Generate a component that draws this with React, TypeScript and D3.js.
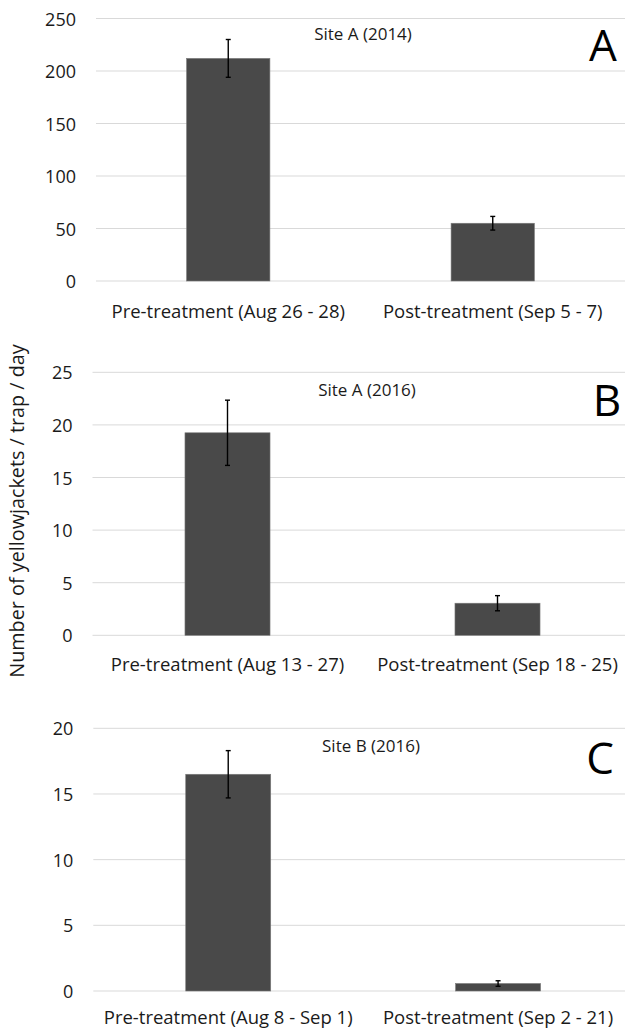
import React from "react";
import * as d3 from "d3";

// ---- Data ----
const categoriesA = ["Pre-treatment (Aug 26 - 28)", "Post-treatment (Sep 5 - 7)"];
const meansA = [212, 55];
const errorsA = [18, 6.5];
const ticksA = [0, 50, 100, 150, 200, 250];

const categoriesB = ["Pre-treatment (Aug 13 - 27)", "Post-treatment (Sep 18 - 25)"];
const meansB = [19.25, 3.05];
const errorsB = [3.1, 0.72];
const ticksB = [0, 5, 10, 15, 20, 25];

const categoriesC = ["Pre-treatment (Aug 8 - Sep 1)", "Post-treatment (Sep 2 - 21)"];
const meansC = [16.5, 0.57];
const errorsC = [1.8, 0.21];
const ticksC = [0, 5, 10, 15, 20];

const titles = ["Site A (2014)", "Site A (2016)", "Site B (2016)"];
const letters = ["A", "B", "C"];
const yAxisTitle = "Number of yellowjackets / trap / day";

const W = 625;
const H = 1030;
const FONT = "'Open Sans', 'Noto Sans', sans-serif";

type PanelProps = {
  categories: string[];
  means: number[];
  errors: number[];
  ticks: number[];
  title: string;
  letter: string;
  y0: number;
  yTop: number;
  xStart: number;
  xEnd: number;
  labelOffset: number;
  titlePos: [number, number];
  letterPos: [number, number];
};

function Panel(p: PanelProps) {
  const maxTick = p.ticks[p.ticks.length - 1];
  const y = d3.scaleLinear().domain([0, maxTick]).range([p.y0, p.yTop]);
  const x = d3.scaleBand<string>().domain(p.categories).range([p.xStart, p.xEnd]).padding(0);
  const barW = x.bandwidth() * 0.315;
  return (
    <g>
      {p.ticks.map((t) => (
        <g key={t}>
          <line x1={p.xStart} x2={W} y1={y(t)} y2={y(t)} stroke="#d9d9d9" strokeWidth={1} />
          <text
            x={p.xStart - 20}
            y={y(t)}
            textAnchor="end"
            dominantBaseline="central"
            fontSize={18}
            fill="#1a1a1a"
          >
            {t}
          </text>
        </g>
      ))}
      {p.categories.map((c, i) => {
        const cx = (x(c) as number) + x.bandwidth() / 2;
        const top = y(p.means[i]);
        const eT = y(p.means[i] + p.errors[i]);
        const eB = y(p.means[i] - p.errors[i]);
        return (
          <g key={c}>
            <rect
              x={cx - barW / 2}
              y={top}
              width={barW}
              height={p.y0 - top}
              fill="#494949"
              stroke="#7a7a7a"
              strokeWidth={0.6}
            />
            <line x1={cx} x2={cx} y1={eT} y2={eB} stroke="#000" strokeWidth={1.4} />
            <line x1={cx - 2.5} x2={cx + 2.5} y1={eT} y2={eT} stroke="#000" strokeWidth={1.4} />
            <line x1={cx - 2.5} x2={cx + 2.5} y1={eB} y2={eB} stroke="#000" strokeWidth={1.4} />
            <text
              x={cx}
              y={p.y0 + p.labelOffset}
              textAnchor="middle"
              dominantBaseline="central"
              fontSize={18.5}
              fill="#1a1a1a"
            >
              {c}
            </text>
          </g>
        );
      })}
      <text
        x={p.titlePos[0]}
        y={p.titlePos[1]}
        textAnchor="middle"
        dominantBaseline="central"
        fontSize={17}
        fill="#1a1a1a"
      >
        {p.title}
      </text>
      <text
        x={p.letterPos[0]}
        y={p.letterPos[1]}
        textAnchor="middle"
        dominantBaseline="central"
        fontSize={44}
        fill="#000"
      >
        {p.letter}
      </text>
    </g>
  );
}

export default function App() {
  return (
    <svg
      width={W}
      height={H}
      style={{ position: "absolute", left: 0, top: 0, background: "#fff", fontFamily: FONT }}
    >
      <rect x={0} y={0} width={W} height={H} fill="#fff" />
      <Panel
        categories={categoriesA}
        means={meansA}
        errors={errorsA}
        ticks={ticksA}
        title={titles[0]}
        letter={letters[0]}
        y0={281}
        yTop={18.5}
        xStart={96}
        xEnd={625}
        labelOffset={29}
        titlePos={[363, 33.5]}
        letterPos={[603, 44]}
      />
      <Panel
        categories={categoriesB}
        means={meansB}
        errors={errorsB}
        ticks={ticksB}
        title={titles[1]}
        letter={letters[1]}
        y0={635.3}
        yTop={372.3}
        xStart={92.5}
        xEnd={632.5}
        labelOffset={28}
        titlePos={[367, 389]}
        letterPos={[607, 399]}
      />
      <Panel
        categories={categoriesC}
        means={meansC}
        errors={errorsC}
        ticks={ticksC}
        title={titles[2]}
        letter={letters[2]}
        y0={991}
        yTop={728.3}
        xStart={93.3}
        xEnd={633}
        labelOffset={25}
        titlePos={[371, 745]}
        letterPos={[600, 757]}
      />
      <text
        transform={`translate(16, 511) rotate(-90)`}
        textAnchor="middle"
        dominantBaseline="central"
        fontSize={19.8}
        fill="#1a1a1a"
      >
        {yAxisTitle}
      </text>
    </svg>
  );
}
